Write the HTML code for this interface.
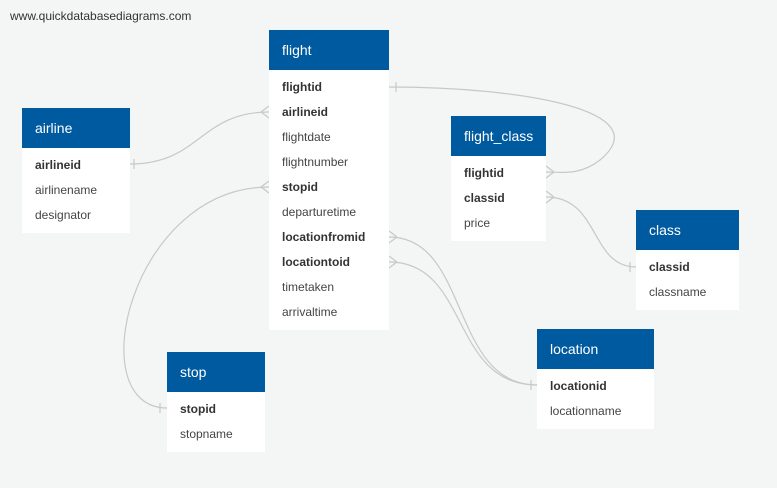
<!DOCTYPE html>
<html><head><style>
body{margin:0;width:777px;height:488px;background:#f4f5f5;font-family:"Liberation Sans",sans-serif;position:relative;overflow:hidden}
.t{position:absolute;background:#fff}
.h{background:#005aa0;color:#fff;font-size:14px;height:40px;line-height:40px;padding-left:13px}
.r{font-size:12px;color:#444;height:25px;line-height:25px;padding-left:13px}
.b{font-weight:bold;color:#333}
.rows{padding:5px 0 5px}
.wm{position:absolute;left:10px;top:9px;font-size:12px;color:#333}
svg{position:absolute;left:0;top:0}
</style></head><body>
<div class="wm">www.quickdatabasediagrams.com</div>
<svg width="777" height="488" fill="none" stroke="#c8c8c8" stroke-width="1.2">
<path d="M130 164 C200 164,200 112,269 112"/>
<path d="M134 159v10M261 112l8 -6M261 112l8 6"/>
<path d="M269 187 C130 187,80 408,167 408"/>
<path d="M261 187l8 -6M261 187l8 6M160 403v10"/>
<path d="M389 87 C520 87,660 110,600 160 C580 176,560 172,546 172"/>
<path d="M396 82v10M554 172l-8 -6M554 172l-8 6"/>
<path d="M546 197 C600 197,590 267,636 267"/>
<path d="M554 197l-8 -6M554 197l-8 6M630 262v10"/>
<path d="M389 237 C470 237,450 385,537 385"/>
<path d="M389 262 C470 262,450 385,537 385"/>
<path d="M397 237l-8 -6M397 237l-8 6M397 262l-8 -6M397 262l-8 6M531 380v10"/>
</svg>
<div class="t" style="left:269px;top:30px;width:120px"><div class="h">flight</div><div class="rows">
<div class="r b">flightid</div><div class="r b">airlineid</div><div class="r">flightdate</div><div class="r">flightnumber</div><div class="r b">stopid</div><div class="r">departuretime</div><div class="r b">locationfromid</div><div class="r b">locationtoid</div><div class="r">timetaken</div><div class="r">arrivaltime</div></div></div>
<div class="t" style="left:22px;top:108px;width:108px"><div class="h">airline</div><div class="rows">
<div class="r b">airlineid</div><div class="r">airlinename</div><div class="r">designator</div></div></div>
<div class="t" style="left:451px;top:116px;width:95px"><div class="h">flight_class</div><div class="rows">
<div class="r b">flightid</div><div class="r b">classid</div><div class="r">price</div></div></div>
<div class="t" style="left:636px;top:210px;width:103px"><div class="h">class</div><div class="rows">
<div class="r b">classid</div><div class="r">classname</div></div></div>
<div class="t" style="left:537px;top:329px;width:117px"><div class="h">location</div><div class="rows">
<div class="r b">locationid</div><div class="r">locationname</div></div></div>
<div class="t" style="left:167px;top:352px;width:98px"><div class="h">stop</div><div class="rows">
<div class="r b">stopid</div><div class="r">stopname</div></div></div>
</body></html>
